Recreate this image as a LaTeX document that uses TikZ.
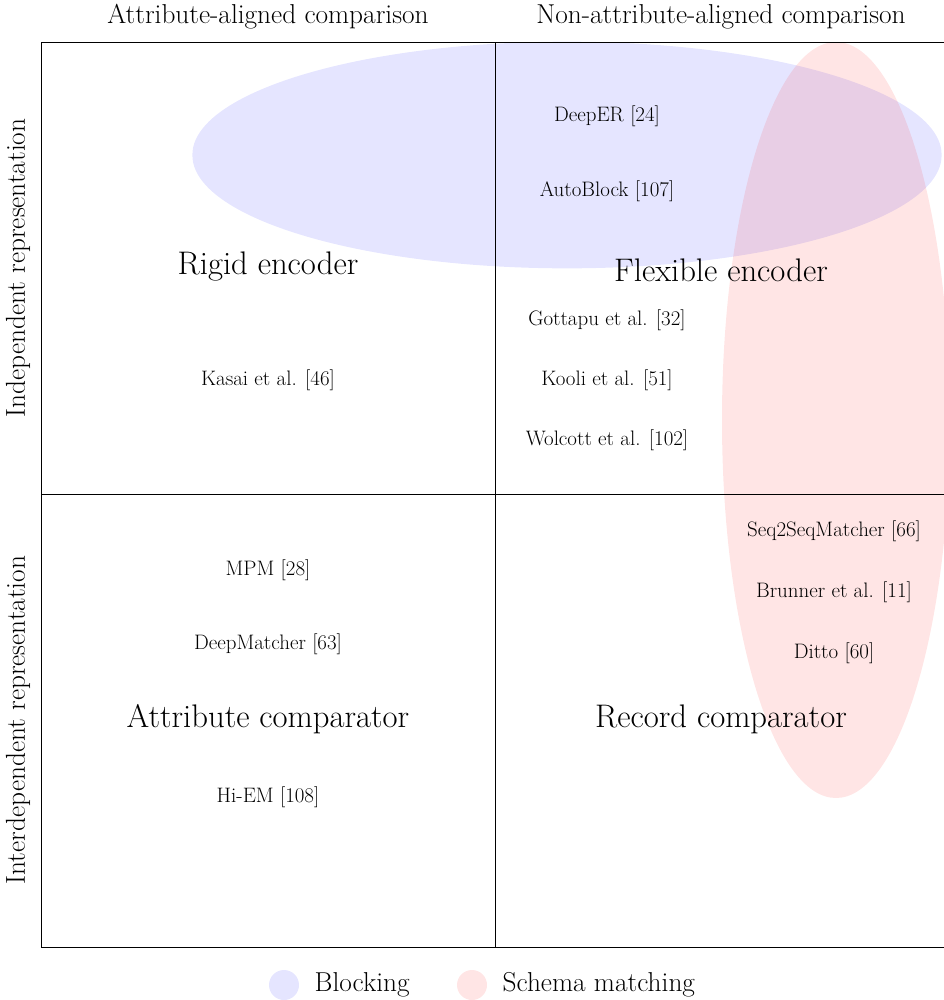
\documentclass[tikz,border=0pt]{standalone}
\usepackage{amsmath}
\usepackage{tikz}
\usetikzlibrary{positioning}
\begin{document}
\begin{tikzpicture}[x=0.75pt,y=-0.75pt]
\tikzstyle{paper}=[font=\fontsize{15.7}{18}\selectfont];
\tikzstyle{cls}=[font=\fontsize{24.5}{28}\selectfont];
\tikzstyle{axis}=[font=\fontsize{20.5}{24}\selectfont];
\tikzstyle{dot}=[circle,minimum size=22.5pt,inner sep=0pt];
\useasboundingbox (0,0) rectangle (943,1000);
% areas
\fill[blue,opacity=0.1] (567,155) ellipse [x radius=281pt,y radius=85pt];
\fill[red,opacity=0.1] (836,420) ellipse [x radius=85.5pt,y radius=283.5pt];
% grid
\draw (41,42) rectangle (949,947);
\draw (495,42)--(495,947);
\draw (41,494)--(949,494);
% axes
\node[axis] (A)at(268,17) {Attribute-aligned comparison};
\node[axis] (B)at(721,17) {Non-attribute-aligned comparison};
\node[axis,rotate=90] (C)at(18,268) {Independent representation};
\node[axis,rotate=90] (D)at(18,720) {Interdependent representation};
% classes
\node[cls] (E)at(268,266) {Rigid encoder};
\node[cls] (F)at(721,270) {Flexible encoder};
\node[cls] (G)at(268,719) {Attribute comparator};
\node[cls] (H)at(721,719) {Record comparator};
% works
\node[paper] (I)at(607,116) {DeepER [24]};
\node[paper] (J)at(607,191) {AutoBlock [107]};
\node[paper] (K)at(607,320) {Gottapu et al. [32]};
\node[paper] (L)at(607,380) {Kooli et al. [51]};
\node[paper] (M)at(607,440) {Wolcott et al. [102]};
\node[paper] (N)at(268,380) {Kasai et al. [46]};
\node[paper] (O)at(268,570) {MPM [28]};
\node[paper] (P)at(268,644) {DeepMatcher [63]};
\node[paper] (Q)at(268,797) {Hi-EM [108]};
\node[paper] (R)at(834,531) {Seq2SeqMatcher [66]};
\node[paper] (S)at(834,592) {Brunner et al. [11]};
\node[paper] (T)at(834,653) {Ditto [60]};
% legend
\node[dot,fill=blue!10] (U)at(284,985) {};
\node[axis,right=8pt of U] (V) {Blocking};
\node[dot,fill=red!10] (W)at(472,985) {};
\node[axis,right=8pt of W] (X) {Schema matching};
\end{tikzpicture}
\end{document}
